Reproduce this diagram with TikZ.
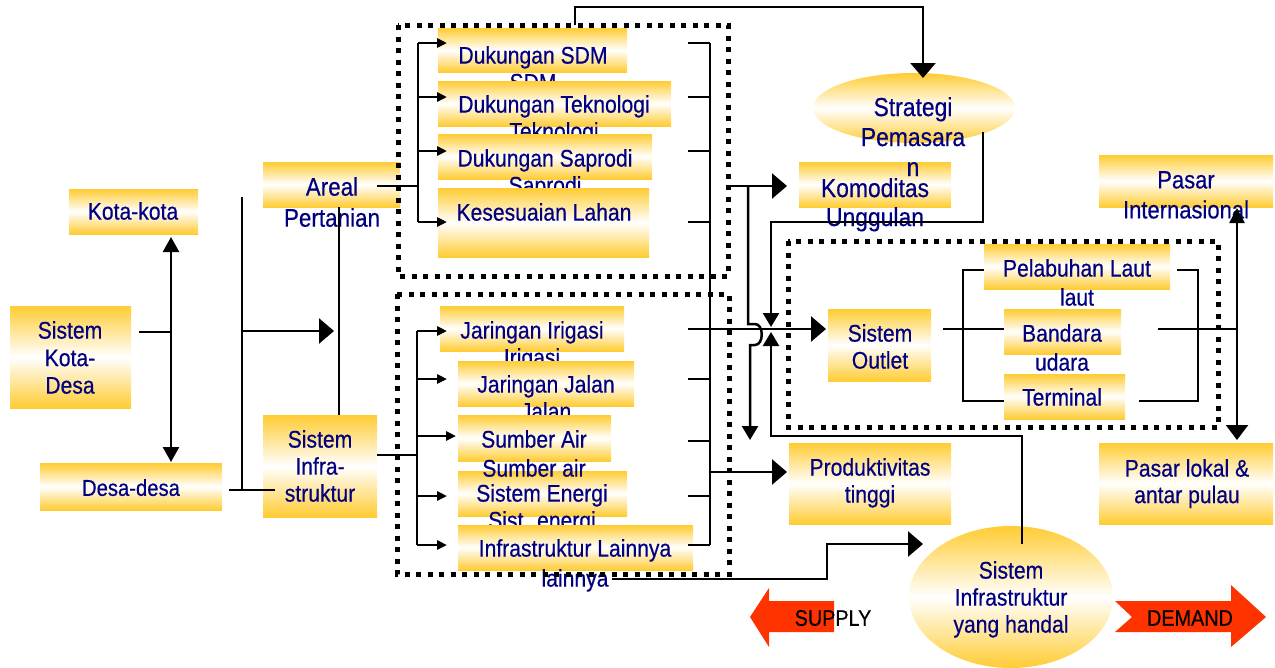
\documentclass[tikz,border=0pt]{standalone}
\usepackage{fontspec}
\setmainfont{Liberation Sans}[FakeStretch=0.88,FakeBold=0.4]
\usetikzlibrary{arrows.meta,shapes.geometric}
\definecolor{gold}{RGB}{255,204,51}
\definecolor{navy}{RGB}{0,0,128}
\definecolor{redarrow}{RGB}{255,51,0}
\tikzset{
  gbox/.style={rectangle, draw=none, inner sep=0pt, top color=gold, bottom color=gold, middle color=white},
  gell/.style={ellipse, draw=none, inner sep=0pt, top color=gold, bottom color=gold, middle color=white},
  lbl/.style={text=navy, align=center, inner sep=0pt, anchor=north, font=\fontsize{24}{27}\selectfont},
  lblb/.style={lbl, font=\fontsize{26}{30}\selectfont},
  blk/.style={text=black, inner sep=0pt, font=\fontsize{22.5}{26}\selectfont},
  ln/.style={line width=2.5pt},
  bigarr/.style={-{Triangle[length=15pt,width=25pt]}},
  medarr/.style={-{Triangle[length=14pt,width=16pt]}},
  smarr/.style={-{Triangle[length=10pt,width=9pt]}},
  dotbox/.style={line width=5pt, dash pattern=on 5pt off 6.5pt}
}
\newcommand{\gbox}[5]{\node[gbox, minimum width={#4-#2}, minimum height={#5-#3}] (#1) at ({(#2+#4)/2},{(#3+#5)/2}) {};}
\begin{document}
\begin{tikzpicture}[x=1pt,y=-1pt]
\useasboundingbox (0,0) rectangle (1275,667);

% ---------- left column ----------
\gbox{kota}{69}{189}{198}{234}
\node[lbl] (kotat) at (133,202) {Kota-kota};
\gbox{skd}{10}{306}{131}{408}
\node[lbl, font=\fontsize{24}{27.5}\selectfont] (skdt) at (70,321) {Sistem\\Kota-\\Desa};
\gbox{desa}{40}{463}{222}{510}
\node[lbl, font=\fontsize{23}{27}\selectfont] (desat) at (131,479) {Desa-desa};
\gbox{areal}{263}{162}{400}{207}
\node[lbl, font=\fontsize{25.5}{31}\selectfont] (arealt) at (332,177) {Areal\\Pertanian};
\gbox{sinfra}{263}{415}{377}{517}
\node[lbl] (sinfrat) at (320,430) {Sistem\\Infra-\\struktur};

% ---------- top group ----------
\gbox{sdm}{438}{28}{627}{72}
\node[lbl] (sdmt) at (533,46) {Dukungan SDM\\SDM};
\gbox{tek}{438}{81}{671}{126}
\node[lbl] (tekt) at (554,95) {Dukungan Teknologi\\Teknologi};
\gbox{sap}{438}{134}{652}{179}
\node[lbl] (sapt) at (545,149) {Dukungan Saprodi\\Saprodi};
\gbox{lahan}{438}{188}{649}{257}
\node[lbl] (lahant) at (544,203) {Kesesuaian Lahan};

% ---------- bottom group ----------
\gbox{irig}{440}{306}{624}{351}
\node[lbl] (irigt) at (532,321) {Jaringan Irigasi\\Irigasi};
\gbox{jalan}{458}{361}{634}{406}
\node[lbl] (jalant) at (546,375) {Jaringan Jalan\\Jalan};
\gbox{air}{458}{415}{611}{461}
\node[lbl] (airt) at (534,430) {Sumber Air};
\gbox{energi}{458}{471}{627}{516}
\node[lbl] (energit) at (542,484) {Sistem Energi\\Sist. energi};
\node[lbl] (airt2) at (534,459) {Sumber air};
\gbox{lain}{458}{525}{693}{570}
\node[lbl, font=\fontsize{24}{30}\selectfont] (laint) at (575,539) {Infrastruktur Lainnya\\lainnya};

% ---------- middle / right ----------
\node[gell, minimum width=202, minimum height=70] (strat) at (914,108) {};
\gbox{komod}{799}{162}{951}{207}
\node[lblb] (stratt) at (913,97) {Strategi\\Pemasara\\n};
\node[lblb, font=\fontsize{26}{29}\selectfont] (komodt) at (875,178) {Komoditas\\Unggulan};
\gbox{produk}{789}{443}{951}{524}
\node[lbl] (produkt) at (870,458) {Produktivitas\\tinggi};
\gbox{outlet}{828}{309}{931}{381}
\node[lbl] (outlett) at (880,324) {Sistem\\Outlet};
\gbox{pelab}{984}{244}{1170}{289}
\node[lbl, font=\fontsize{24}{29}\selectfont] (pelabt) at (1077,259) {Pelabuhan Laut\\laut};
\gbox{bandara}{1004}{309}{1121}{354}
\node[lbl, font=\fontsize{24}{29}\selectfont] (bandarat) at (1062,324) {Bandara\\udara};
\gbox{terminal}{1004}{374}{1125}{419}
\node[lbl] (terminalt) at (1062,388) {Terminal};
\gbox{pasint}{1099}{155}{1273}{207}
\node[lblb, font=\fontsize{25}{30}\selectfont] (pasintt) at (1186,171) {Pasar\\Internasional};
\gbox{paslok}{1099}{443}{1273}{524}
\node[lbl, font=\fontsize{24}{26.5}\selectfont] (paslokt) at (1187,459) {Pasar lokal \&\\antar pulau};
\node[gell, minimum width=204, minimum height=142] (sinf) at (1011,597) {};
\node[lbl] (sinft) at (1011,561) {Sistem\\Infrastruktur\\yang handal};

% ---------- red arrows ----------
\fill[redarrow] (750,617) -- (769,588) -- (769,601) -- (834,601) -- (834,632) -- (769,632) -- (769,647) -- cycle;
\node[blk] (supply) at (833,618) {SUPPLY};
\fill[redarrow] (1115,601) -- (1231,601) -- (1231,585) -- (1266,617) -- (1231,647) -- (1231,632) -- (1115,632) -- (1132,617) -- cycle;
\node[blk] (demand) at (1190,618) {DEMAND};

% ---------- dotted boxes ----------
\draw[dotbox] (398,25) rectangle (728,276);
\draw[dotbox] (397,294) rectangle (729,574);
\draw[dotbox] (788,241) rectangle (1218,427);

% ---------- connectors: left ----------
\draw[ln, {Triangle[length=15pt,width=16pt]}-{Triangle[length=15pt,width=16pt]}] (171,237) -- (171,462);
\draw[ln] (139,332) -- (171,332);
\draw[ln] (242,197) -- (242,490);
\draw[ln] (229,490) -- (275,490);
\draw[ln, bigarr] (242,331) -- (334,331);
\draw[ln] (339,207) -- (339,415);

% top group brackets
\draw[ln] (377,186) -- (418,186);
\draw[ln] (418,43) -- (418,222);
\foreach \y in {43,97,151,222} \draw[ln, smarr] (418,\y) -- (447,\y);
\foreach \y in {43,97,151,222} \draw[ln] (688,\y) -- (710,\y);
\draw[ln] (710,43) -- (710,545);

% bottom group brackets
\draw[ln] (377,455) -- (417,455);
\draw[ln] (417,331) -- (417,545);
\foreach \y/\t in {331/447,379/447,436/456,496/447,545/447} \draw[ln, smarr] (417,\y) -- (\t,\y);
\foreach \y in {379,441,496,545} \draw[ln] (688,\y) -- (710,\y);

% to Strategi
\draw[ln, bigarr] (575,25) -- (575,7) -- (923,7) -- (923,78);
% to Komoditas
\draw[ln, bigarr] (728,186) -- (787,186);
\draw[ln, medarr] (748,186) -- (748,324) -- (755,324) .. controls (764,324) and (764,345) .. (755,345) -- (750,345) -- (750,440);
% Strategi down to outlet junction
\draw[ln, medarr] (983,132) -- (983,222) -- (771,222) -- (771,327);
% Sistem infrastruktur up to junction
\draw[ln, medarr] (1022,544) -- (1022,436) -- (771,436) -- (771,332);
% irigasi row to outlet
\draw[ln, bigarr] (688,329) -- (826,329);
% to Produktivitas
\draw[ln, bigarr] (710,472) -- (787,472);
% to Sistem Infrastruktur ellipse
\draw[ln, bigarr] (612,579) -- (827,579) -- (827,544) -- (923,544);

% outlet group
\draw[ln] (943,329) -- (1004,329);
\draw[ln] (984,270) -- (963,270) -- (963,401) -- (1004,401);
\draw[ln] (1177,270) -- (1198,270) -- (1198,401) -- (1139,401);
\draw[ln] (1158,329) -- (1237,329);
\draw[ln, {Triangle[length=15pt,width=15pt]}-{Triangle[length=15pt,width=22pt]}] (1237,208) -- (1237,440);
\end{tikzpicture}
\end{document}
